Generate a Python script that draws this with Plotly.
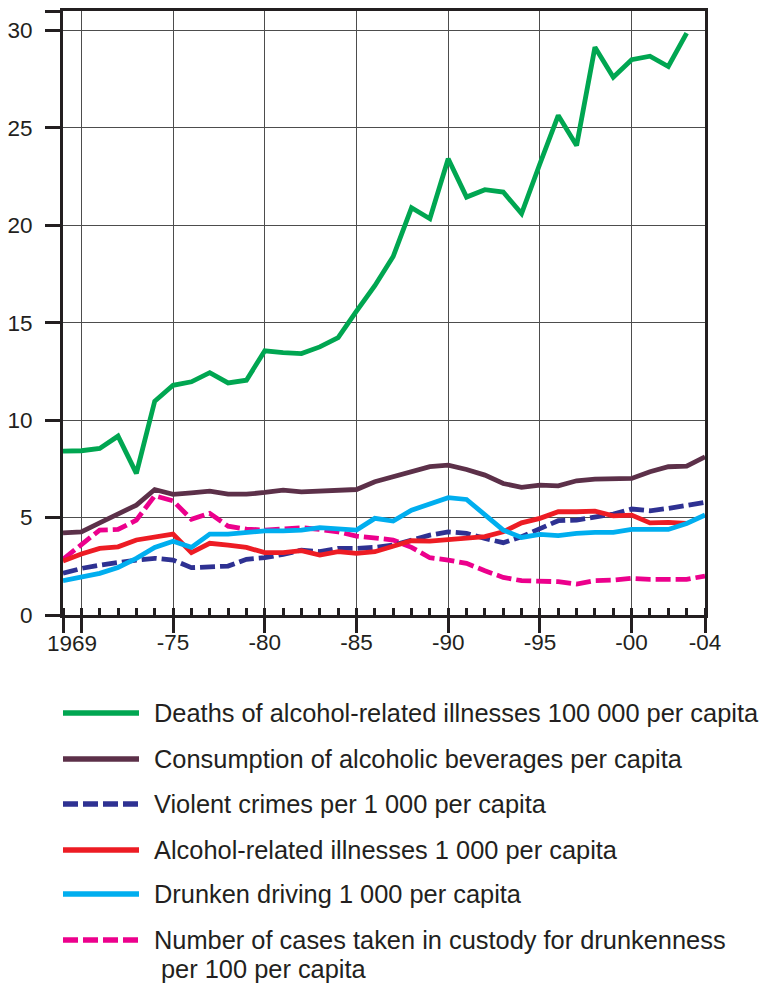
import plotly.graph_objects as go

years = [1969, 1970, 1971, 1972, 1973, 1974, 1975, 1976, 1977, 1978,
         1979, 1980, 1981, 1982, 1983, 1984, 1985, 1986, 1987, 1988,
         1989, 1990, 1991, 1992, 1993, 1994, 1995, 1996, 1997, 1998,
         1999, 2000, 2001, 2002, 2003, 2004]

deaths = [8.41, 8.43, 8.55, 9.18, 7.27, 10.97, 11.79, 11.97, 12.44, 11.91,
          12.05, 13.56, 13.47, 13.42, 13.76, 14.24, 15.6, 16.9, 18.4, 20.9,
          20.34, 23.42, 21.45, 21.83, 21.71, 20.6, 23.16, 25.64, 24.1, 29.14,
          27.6, 28.5, 28.68, 28.15, 29.86]

consumption = [4.22, 4.27, 4.73, 5.16, 5.64, 6.44, 6.19, 6.27, 6.36, 6.2,
               6.2, 6.29, 6.41, 6.32, 6.36, 6.46, 6.44, 6.84, 7.09, 7.3,
               7.61, 7.69, 7.47, 7.18, 6.75, 6.55, 6.67, 6.63, 6.89, 6.97,
               7.01, 7.01, 7.35, 7.61, 7.64, 8.12]

violent_crimes = [2.14, 2.39, 2.56, 2.7, 2.82, 2.91, 2.82, 2.43, 2.48, 2.51,
                  2.86, 2.94, 3.11, 3.33, 3.25, 3.42, 3.42, 3.47, 3.59, 3.85,
                  4.1, 4.27, 4.19, 3.93, 3.71, 4.02, 4.44, 4.84, 4.87, 5.01,
                  5.18, 5.44, 5.35, 5.47, 5.61, 5.78]

illnesses = [2.77, 3.13, 3.42, 3.5, 3.85, 3.97, 4.15, 3.2, 3.68, 3.59,
             3.47, 3.2, 3.2, 3.3, 3.08, 3.25, 3.16, 3.25, 3.54, 3.81,
             3.79, 3.88, 3.97, 4.02, 4.27, 4.73, 4.96, 5.3, 5.3, 5.33,
             5.09, 5.13, 4.73, 4.75, 4.7]

drunken_driving = [1.76, 1.97, 2.14, 2.44, 2.91, 3.47, 3.79, 3.47, 4.15, 4.15,
                   4.24, 4.32, 4.32, 4.36, 4.48, 4.41, 4.36, 4.96, 4.82, 5.38,
                   5.69, 6.02, 5.93, 5.13, 4.36, 3.98, 4.14, 4.07, 4.19, 4.24,
                   4.24, 4.39, 4.36, 4.39, 4.7, 5.13]

custody = [2.86, 3.64, 4.36, 4.39, 4.87, 6.12, 5.86, 4.91, 5.22, 4.56,
           4.41, 4.36, 4.39, 4.48, 4.39, 4.27, 4.05, 3.98, 3.85, 3.47,
           2.94, 2.82, 2.65, 2.27, 1.93, 1.76, 1.74, 1.71, 1.59, 1.76,
           1.79, 1.88, 1.83, 1.83, 1.83, 2.0]

x_tick_vals = [1969, 1970, 1975, 1980, 1985, 1990, 1995, 2000, 2004]
x_tick_text = ["", "", "-75", "-80", "-85", "-90", "-95", "-00", "-04"]
y_tick_vals = [0, 5, 10, 15, 20, 25, 30, 31]
y_tick_text = ["0", "5", "10", "15", "20", "25", "30", ""]

series = [
    ("Deaths of alcohol-related illnesses 100 000 per capita", deaths, "#00A651", "solid"),
    ("Consumption of alcoholic beverages per capita", consumption, "#5C3049", "solid"),
    ("Violent crimes per 1 000 per capita", violent_crimes, "#2E3192", "15px,5px"),
    ("Alcohol-related illnesses 1 000 per capita", illnesses, "#ED1C24", "solid"),
    ("Drunken driving 1 000 per capita", drunken_driving, "#00AEEF", "solid"),
    ("Number of cases taken in custody for drunkenness", custody, "#EC008C", "15px,5px"),
]

INK = "#231F20"
W, H = 760, 983
L, R, T, B = 63, 55, 11, 368


def px_x(px):
    return (px - L) / (W - L - R)


def px_y(py):
    return (H - B - py) / (H - T - B)


# draw order: back to front
draw_order = [1, 0, 5, 2, 3, 4]
fig = go.Figure()
for i in draw_order:
    name, values, color, dash = series[i]
    fig.add_trace(
        go.Scatter(
            x=years[: len(values)],
            y=values,
            mode="lines",
            name=name,
            line=dict(color=color, width=4.8, dash=dash),
            showlegend=False,
        )
    )

shapes = []
annotations = []
legend_rows = [713, 759, 804, 850, 894, 940]
for (name, values, color, dash), row_y in zip(series, legend_rows):
    shapes.append(
        dict(
            type="line",
            xref="paper",
            yref="paper",
            x0=px_x(63),
            x1=px_x(139),
            y0=px_y(row_y),
            y1=px_y(row_y),
            line=dict(color=color, width=5.5, dash=dash),
        )
    )
    annotations.append(
        dict(
            text=name,
            xref="paper",
            yref="paper",
            x=px_x(152),
            y=px_y(row_y),
            xanchor="left",
            yanchor="middle",
            showarrow=False,
            font=dict(size=25.4, color=INK),
        )
    )
annotations.append(
    dict(
        text="per 100 per capita",
        xref="paper",
        yref="paper",
        x=px_x(159),
        y=px_y(969),
        xanchor="left",
        yanchor="middle",
        showarrow=False,
        font=dict(size=25.4, color=INK),
    )
)
annotations.append(
    dict(
        text="1969",
        xref="x",
        yref="paper",
        x=1969.5,
        y=px_y(643),
        xanchor="center",
        yanchor="middle",
        showarrow=False,
        font=dict(size=22.5, color=INK),
    )
)

fig.update_layout(
    width=W,
    height=H,
    margin=dict(l=L, r=R, t=T, b=B),
    paper_bgcolor="white",
    plot_bgcolor="white",
    font=dict(family="Liberation Sans, Arial, sans-serif", color=INK),
    shapes=shapes,
    annotations=annotations,
    xaxis=dict(
        range=[1969, 2004],
        automargin=False,
        tickmode="array",
        tickvals=x_tick_vals,
        ticktext=x_tick_text,
        ticks="outside",
        ticklen=15,
        tickwidth=3,
        tickcolor=INK,
        tickfont=dict(size=22.5, color=INK),
        ticklabelstandoff=-10,
        showline=True,
        linewidth=3,
        linecolor=INK,
        mirror=True,
        showgrid=True,
        gridcolor="#4D4D4D",
        gridwidth=1,
        zeroline=False,
        minor=dict(
            ticks="inside",
            ticklen=7,
            tickwidth=2.5,
            tickcolor=INK,
            tick0=1969,
            dtick=1,
            showgrid=False,
        ),
    ),
    yaxis=dict(
        range=[0, 31],
        automargin=False,
        tickmode="array",
        tickvals=y_tick_vals,
        ticktext=y_tick_text,
        ticks="outside",
        ticklen=15,
        tickwidth=3,
        tickcolor=INK,
        tickfont=dict(size=22.5, color=INK),
        ticklabelstandoff=8,
        showline=True,
        linewidth=3,
        linecolor=INK,
        mirror=True,
        showgrid=True,
        gridcolor="#4D4D4D",
        gridwidth=1,
        zeroline=False,
    ),
)

# drop the browser's default page margin so the figure sits at the corner
fig.write_html(
    "out.html",
    config={"displayModeBar": False},
    post_script="document.body.style.margin = '0';",
)
